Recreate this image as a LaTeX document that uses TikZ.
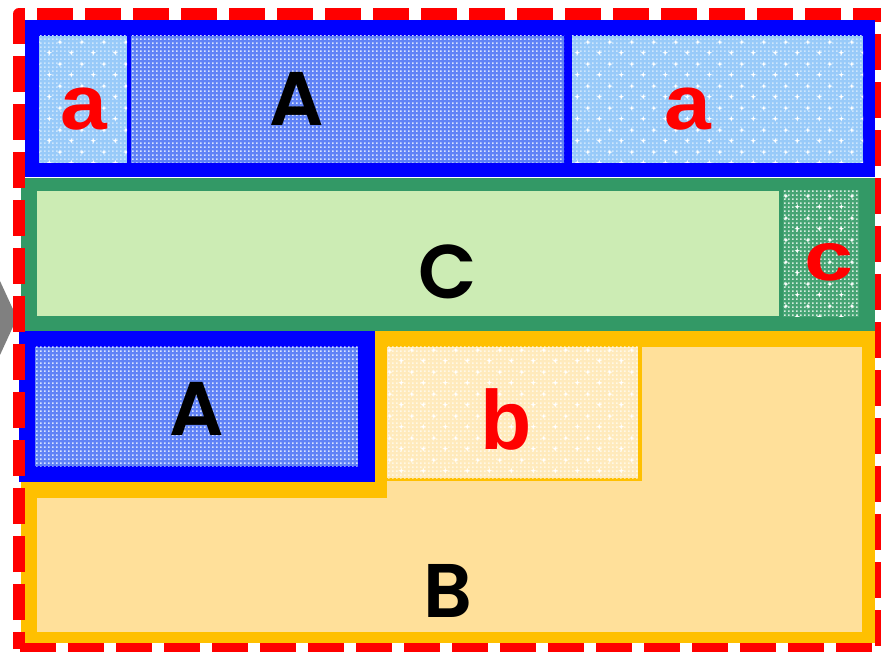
\documentclass[tikz,border=0pt]{standalone}
\usepackage{fontspec}
\usepackage{graphicx}
\usetikzlibrary{patterns.meta}

\newfontfamily\capfont{Poppins SemiBold}
\newfontfamily\lowfont{Liberation Sans}

\definecolor{frameRed}{RGB}{255,0,0}
\definecolor{boxBlue}{RGB}{0,0,255}
\definecolor{boxGreen}{RGB}{51,153,102}
\definecolor{paleGreen}{RGB}{204,236,180}
\definecolor{boxOrange}{RGB}{255,192,0}
\definecolor{paleOrange}{RGB}{255,224,154}
\definecolor{arrowGray}{RGB}{128,128,128}
\definecolor{aBase}{RGB}{152,202,249}
\definecolor{aCheck}{RGB}{205,230,253}
\definecolor{ABase}{RGB}{96,130,246}
\definecolor{ACheck}{RGB}{218,228,255}
\definecolor{cBase}{RGB}{70,164,116}
\definecolor{cCheck}{RGB}{215,238,224}
\definecolor{bBase}{RGB}{255,234,188}
\definecolor{bCheck}{RGB}{255,248,230}

% fine checker texture
\tikzdeclarepattern{
  name=finecheck,
  type=uncolored,
  bounding box={(0pt,0pt) and (4pt,4pt)},
  tile size={(4pt,4pt)},
  code={\fill (0pt,0pt) rectangle (2pt,2pt);}
}
% staggered four-point sparkles
\tikzdeclarepattern{
  name=sparkle,
  type=uncolored,
  bounding box={(0pt,0pt) and (22pt,22pt)},
  tile size={(22pt,22pt)},
  code={
    \fill (5.5pt,8.4pt) -- (6.2pt,6.2pt) -- (8.4pt,5.5pt) -- (6.2pt,4.8pt)
       -- (5.5pt,2.6pt) -- (4.8pt,4.8pt) -- (2.6pt,5.5pt) -- (4.8pt,6.2pt) -- cycle;
    \fill (16.5pt,19.4pt) -- (17.2pt,17.2pt) -- (19.4pt,16.5pt) -- (17.2pt,15.8pt)
       -- (16.5pt,13.6pt) -- (15.8pt,15.8pt) -- (13.6pt,16.5pt) -- (15.8pt,17.2pt) -- cycle;
  }
}

% cell with checker texture only
\newcommand\checkcell[4]{%
  \fill[#1] #3 rectangle #4;
  \fill[pattern=finecheck, pattern color=#2] #3 rectangle #4;}
% cell with checker texture and sparkles
\newcommand\sparkcell[4]{%
  \checkcell{#1}{#2}{#3}{#4}%
  \fill[pattern=sparkle, pattern color=white] #3 rectangle #4;}

\tikzset{
  caplbl/.style={font=\capfont\fontsize{76}{76}\selectfont, text=black, inner sep=0pt, anchor=base},
  lowlbl/.style={font=\lowfont\bfseries\fontsize{84}{84}\selectfont, text=frameRed, inner sep=0pt, anchor=base},
  frame/.style={draw=frameRed, line width=12pt, dash pattern=on 36pt off 12pt,
    dash phase=19pt, line join=round}
}

\begin{document}
\begin{tikzpicture}[x=1pt, y=-1pt]
  \useasboundingbox (0,0) rectangle (881,652);
  \clip (0,0) rectangle (881,652);
  \fill[white] (0,0) rectangle (881,652);

  % grey arrow tip peeking in from the left
  \fill[arrowGray] (0,281) -- (17,318) -- (0,355) -- cycle;

  % top blue box: a | A | a
  \fill[boxBlue] (25,20) rectangle (875,177);
  \sparkcell{aBase}{aCheck}{(39,36)}{(127,163)}
  \checkcell{ABase}{ACheck}{(131,36)}{(564,163)}
  \sparkcell{aBase}{aCheck}{(572,36)}{(863,163)}

  % green box: C | c
  \fill[boxGreen] (21,178) rectangle (875,331);
  \fill[paleGreen] (37,191) rectangle (779,316);
  \sparkcell{cBase}{cCheck}{(783,190)}{(859,317)}

  % orange box B with its inset pieces
  \fill[boxOrange] (21,331) rectangle (875,643);
  \fill[paleOrange] (37,347) rectangle (862,632);
  \fill[boxOrange] (21,331) rectangle (387,498);
  \fill[boxOrange] (387,347) rectangle (642,481);
  \sparkcell{bBase}{bCheck}{(387,347)}{(638,478)}

  % lower blue box A
  \fill[boxBlue] (19,331) rectangle (375,482);
  \checkcell{ABase}{ACheck}{(35,347)}{(358,466)}

  % labels
  \node[lowlbl] (la1) at (84,130) {\scalebox{1}[0.92]{a}};
  \node[caplbl] (lA1) at (297,126) {A};
  \node[lowlbl] (la2) at (688,130) {\scalebox{1}[0.92]{a}};
  \node[caplbl] (lC)  at (448,299) {C};
  \node[lowlbl] (lc)  at (829,281) {\scalebox{1.05}[0.82]{c}};
  \node[caplbl] (lA2) at (197,435) {A};
  \node[lowlbl] (lb)  at (506,449) {b};
  \node[caplbl] (lB)  at (448,617) {B};

  % red dashed outer frame
  \draw[frame] (19,649) -- (19,14) -- (881,14) -- (881,649) -- cycle;
\end{tikzpicture}
\end{document}
